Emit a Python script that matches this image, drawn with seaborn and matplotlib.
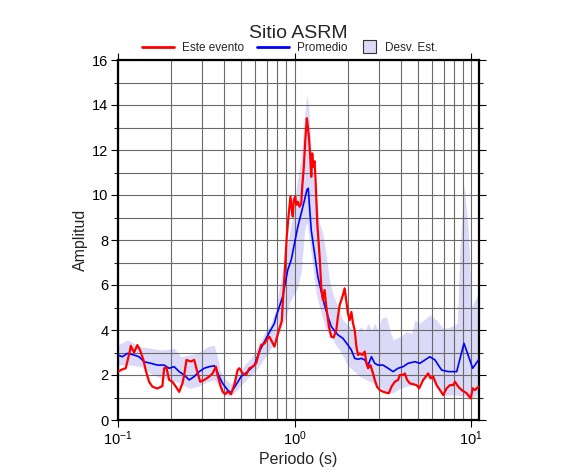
import numpy as np
import pandas as pd
import matplotlib
matplotlib.use("Agg")
import matplotlib.pyplot as plt
from matplotlib.ticker import MultipleLocator, LogLocator, NullFormatter
from matplotlib.lines import Line2D
from matplotlib.patches import Rectangle
from matplotlib.legend_handler import HandlerBase
import seaborn as sns

# ---------------- data ----------------
red_period = [0.100, 0.1058, 0.1106, 0.1170, 0.1181, 0.1233, 0.1287, 0.1334, 0.1393, 0.1437,
              0.1500, 0.1566, 0.1672, 0.1785, 0.1825, 0.1881, 0.1949, 0.2034, 0.2127, 0.2221,
              0.2319, 0.2371, 0.2444, 0.2588, 0.2703, 0.2800, 0.2923, 0.3080, 0.3288, 0.3434,
              0.3589, 0.3665, 0.3797, 0.3913, 0.4037, 0.4178, 0.4368, 0.4560, 0.4761, 0.4869,
              0.5084, 0.5316, 0.5550, 0.5796, 0.6059, 0.6244, 0.6468, 0.6753, 0.7052, 0.7211,
              0.7373, 0.7699, 0.7872, 0.8113, 0.8219, 0.8470, 0.8581, 0.8773, 0.9041, 0.9281,
              0.9490, 0.9654, 0.9779, 0.9908, 1.0093, 1.0226, 1.0443, 1.0676, 1.0917, 1.1061,
              1.1293, 1.1548, 1.1746, 1.1901, 1.2057, 1.2278, 1.2441, 1.2605, 1.2771, 1.2989,
              1.3161, 1.3459, 1.3744, 1.3868, 1.4181, 1.4481, 1.4807, 1.5140, 1.5665, 1.6164,
              1.6659, 1.7256, 1.7620, 1.8018, 1.8421, 1.8811, 1.9236, 1.9490, 1.9670, 2.0083,
              2.0537, 2.1001, 2.1446, 2.1926, 2.2421, 2.2896, 2.3409, 2.4253, 2.4993, 2.5558,
              2.6099, 2.6924, 2.7859, 2.8483, 2.9354, 3.0413, 3.1754, 3.3195, 3.4212, 3.5441,
              3.7007, 3.8634, 3.9507, 4.1246, 4.2170, 4.3462, 4.5022, 4.9149, 5.0854, 5.3582,
              5.7200, 5.9020, 6.1067, 6.3844, 6.6671, 6.9607, 7.2772, 7.5987, 7.9347, 8.1141,
              8.4711, 8.8553, 9.4541, 9.9609, 10.226, 10.537, 11.003, 11.10]
red_amp = [2.15, 2.25, 2.30, 3.10, 3.30, 3.00, 3.33, 3.10, 2.67, 2.20,
           1.70, 1.48, 1.40, 1.51, 2.30, 2.33, 1.78, 1.70, 1.48, 1.25,
           1.63, 2.00, 2.67, 2.60, 2.67, 2.20, 1.70, 1.78, 1.93, 2.07,
           2.37, 2.00, 1.56, 1.26, 1.15, 1.26, 1.15, 1.56, 2.22, 2.30,
           2.07, 2.00, 2.30, 2.37, 2.52, 2.89, 3.33, 3.40, 3.63, 3.70,
           3.55, 3.26, 3.55, 3.93, 4.07, 4.40, 5.20, 6.37, 8.15, 9.19,
           9.93, 9.33, 9.04, 9.78, 9.93, 9.56, 9.70, 9.48, 9.63, 10.37,
           11.26, 12.60, 13.41, 13.04, 12.60, 11.70, 10.81, 11.85, 11.26, 11.50,
           10.67, 8.74, 7.70, 7.30, 5.90, 5.33, 5.78, 5.04, 4.15, 3.70,
           3.67, 4.00, 4.59, 5.11, 5.33, 5.56, 5.85, 5.50, 5.26, 4.74,
           4.44, 4.80, 4.30, 4.00, 3.26, 2.89, 2.96, 2.89, 3.04, 2.52,
           2.30, 2.44, 2.07, 1.78, 1.48, 1.33, 1.26, 1.21, 1.19, 1.48,
           1.70, 1.78, 2.00, 2.00, 2.07, 1.78, 1.63, 1.55, 1.41, 1.78,
           2.07, 1.85, 1.93, 1.55, 1.33, 1.11, 1.41, 1.55, 1.55, 1.70,
           1.48, 1.33, 1.19, 0.96, 1.41, 1.33, 1.48, 1.45]

blue_period = [0.100, 0.1058, 0.1129, 0.1233, 0.1316, 0.1405, 0.1534, 0.1672, 0.1825, 0.1949,
               0.2080, 0.2221, 0.2371, 0.2531, 0.2703, 0.2885, 0.3080, 0.3288, 0.3511, 0.3589,
               0.3748, 0.3913, 0.4178, 0.4368, 0.4662, 0.4979, 0.5429, 0.5926, 0.6325, 0.6753,
               0.7211, 0.7699, 0.7872, 0.8581, 0.9160, 0.9577, 1.0000, 1.0443, 1.0917, 1.1398,
               1.1746, 1.1962, 1.2166, 1.2441, 1.2989, 1.3565, 1.4181, 1.4807, 1.5461, 1.6164,
               1.7620, 1.8811, 2.0083, 2.1001, 2.1926, 2.2896, 2.3936, 2.4993, 2.6099, 2.7280,
               2.8483, 2.9742, 3.1754, 3.3898, 3.6192, 3.8634, 4.1246, 4.4037, 4.8064, 5.1313,
               5.8479, 6.2447, 6.8163, 7.4306, 8.2975, 9.1250, 10.226, 11.10]
blue_amp = [2.89, 2.81, 2.96, 2.89, 2.81, 2.59, 2.52, 2.44, 2.44, 2.30,
            2.37, 2.15, 2.00, 1.78, 1.93, 2.15, 2.30, 2.37, 2.41, 2.30,
            1.93, 1.63, 1.33, 1.21, 1.56, 1.93, 2.15, 2.44, 3.04, 3.48,
            3.90, 4.30, 4.60, 5.50, 6.67, 7.11, 7.85, 8.59, 9.19, 9.78,
            10.22, 10.30, 9.48, 8.44, 7.41, 6.37, 5.70, 5.10, 4.60, 4.15,
            3.78, 3.63, 3.33, 3.11, 2.74, 2.70, 2.74, 2.67, 2.44, 2.81,
            2.52, 2.44, 2.44, 2.30, 2.15, 2.30, 2.37, 2.52, 2.59, 2.52,
            2.81, 2.67, 2.22, 2.15, 2.15, 3.41, 2.30, 2.70]

band_period = [0.100, 0.1129, 0.1233, 0.1346, 0.1534, 0.1748, 0.1992, 0.2080, 0.2271, 0.2531,
               0.2822, 0.3216, 0.3511, 0.3665, 0.3797, 0.4001, 0.4368, 0.4761, 0.5199, 0.5675,
               0.6187, 0.6753, 0.7373, 0.7872, 0.8219, 0.8970, 0.9367, 0.9779, 1.0443, 1.0917,
               1.1398, 1.1746, 1.2057, 1.2441, 1.2704, 1.3283, 1.3868, 1.4481, 1.5140, 1.5810,
               1.6506, 1.7256, 1.8018, 1.8811, 1.9670, 2.0537, 2.2421, 2.3936, 2.4993, 2.6099,
               2.7280, 2.8483, 2.9742, 3.1095, 3.3195, 3.4665, 3.6192, 3.9507, 4.3123, 4.6039,
               4.8064, 5.1313, 5.8479, 6.3844, 6.9607, 7.4306, 8.1141, 8.3625, 8.6596, 9.1250,
               9.6546, 10.092, 10.537, 11.003, 11.10]
band_low = [2.44, 2.45, 2.42, 2.37, 2.07, 1.85, 1.78, 1.72, 1.63, 1.41,
            1.48, 1.70, 1.78, 1.60, 1.35, 1.11, 1.07, 1.35, 1.70, 2.00,
            2.30, 2.75, 3.20, 3.60, 3.90, 4.60, 5.20, 5.50, 5.90, 6.60,
            8.40, 8.80, 8.20, 7.40, 6.80, 5.63, 5.00, 4.50, 4.00, 3.75,
            3.56, 3.30, 3.11, 2.85, 2.52, 2.35, 2.07, 1.90, 1.82, 1.75,
            1.68, 1.60, 1.50, 1.42, 1.25, 1.19, 1.20, 1.40, 1.50, 1.55,
            1.60, 1.70, 1.93, 1.50, 1.11, 1.11, 1.11, 1.11, 1.08, 1.06,
            1.04, 0.90, 1.05, 1.19, 1.20]
band_high = [3.33, 3.56, 3.40, 3.25, 3.19, 3.11, 3.15, 3.20, 2.81, 2.89,
             2.96, 3.26, 3.33, 2.80, 2.20, 1.85, 1.60, 2.00, 2.44, 2.74,
             3.26, 3.85, 4.30, 5.00, 5.90, 7.50, 8.30, 9.04, 10.80, 11.70,
             13.50, 14.50, 13.80, 12.00, 11.00, 9.93, 8.74, 8.30, 7.26, 6.20,
             5.60, 5.19, 4.80, 4.44, 4.30, 4.15, 3.93, 4.15, 3.93, 4.30,
             4.00, 4.30, 4.00, 4.52, 4.59, 4.00, 3.56, 3.70, 3.93, 3.85,
             4.44, 4.30, 4.67, 4.44, 4.07, 4.10, 4.22, 4.30, 7.70, 10.50,
             8.44, 5.04, 5.33, 5.63, 5.70]

title = "Sitio ASRM"
legend_labels = ["Este evento", "Promedio", "Desv. Est."]
x_label = "Periodo (s)"
y_label = "Amplitud"

red_df = pd.DataFrame({"period": red_period, "amp": red_amp})
blue_df = pd.DataFrame({"period": blue_period, "amp": blue_amp})

# ---------------- style ----------------
sns.set_style("ticks")
plt.rcParams["font.family"] = ["Liberation Sans", "DejaVu Sans"]
plt.rcParams["mathtext.fontset"] = "custom"
plt.rcParams["mathtext.rm"] = "Liberation Sans"
plt.rcParams["mathtext.it"] = "Liberation Sans:italic"
plt.rcParams["mathtext.bf"] = "Liberation Sans:bold"

band_color = "#dadaf8"


class SquareHandler(HandlerBase):
    """Draw the legend patch as a small square filling the handle box height."""

    def create_artists(self, legend, orig_handle, xdescent, ydescent, width, height,
                       fontsize, trans):
        side = 1.55 * height
        x0 = -xdescent + width - side
        y0 = -ydescent + height / 2 - side / 2
        r = Rectangle((x0, y0), side, side, facecolor=orig_handle.get_facecolor(),
                      edgecolor=orig_handle.get_edgecolor(), lw=0.8, transform=trans)
        return [r]


fig = plt.figure(figsize=(5.86, 4.75), dpi=100)
ax = fig.add_axes([118 / 586, 55 / 475, 361 / 586, 360 / 475])

ax.fill_between(band_period, band_low, band_high, color=band_color, lw=0, zorder=1)
sns.lineplot(data=blue_df, x="period", y="amp", ax=ax, color="#0000ff", lw=1.2,
             estimator=None, sort=False, zorder=3)
sns.lineplot(data=red_df, x="period", y="amp", ax=ax, color="#ff0000", lw=1.6,
             estimator=None, sort=False, zorder=4)

ax.set_xscale("log")
ax.set_xlim(0.1, 11.1)
ax.set_ylim(0, 16)

ax.xaxis.set_major_locator(LogLocator(base=10))
ax.xaxis.set_minor_locator(LogLocator(base=10, subs=np.arange(2, 10)))
ax.xaxis.set_minor_formatter(NullFormatter())
ax.yaxis.set_major_locator(MultipleLocator(2))
ax.yaxis.set_minor_locator(MultipleLocator(1))

ax.set_axisbelow("line")
ax.grid(which="both", color="#6a6a6a", lw=0.8)

for s in ax.spines.values():
    s.set_linewidth(1.6)
    s.set_color("black")

ax.tick_params(axis="both", which="major", direction="out", length=5, width=0.8,
               labelsize=10.5, pad=2, top=True, right=True, colors="black")
ax.tick_params(axis="y", which="minor", direction="out", length=3, width=0.8,
               right=True, left=True)
ax.tick_params(axis="x", which="minor", length=0)

ax.set_xlabel(x_label, fontsize=11.5, labelpad=3)
ax.set_ylabel(y_label, fontsize=11.5, labelpad=3)

fig.text(298.5 / 586, 1 - 33.5 / 475, title, ha="center", va="center", fontsize=14)

legend_y = 1 - 48 / 475
line_handles = [Line2D([], [], color="#ff0000", lw=2), Line2D([], [], color="#0000ff", lw=2)]
fig.legend(line_handles, legend_labels[:2], loc="center left",
           bbox_to_anchor=(142 / 586, legend_y), ncol=2, frameon=False, fontsize=8.5,
           handlelength=2.7, handletextpad=0.7, columnspacing=1.1,
           borderpad=0, borderaxespad=0)

square = Rectangle((0, 0), 1, 1, facecolor=band_color, edgecolor="#333333")
fig.legend([square], legend_labels[2:], loc="center left",
           bbox_to_anchor=(363 / 586, legend_y), frameon=False, fontsize=8.5,
           handlelength=1.1, handletextpad=0.75, borderpad=0, borderaxespad=0,
           handler_map={Rectangle: SquareHandler()})

fig.savefig("out.png", dpi=100)
